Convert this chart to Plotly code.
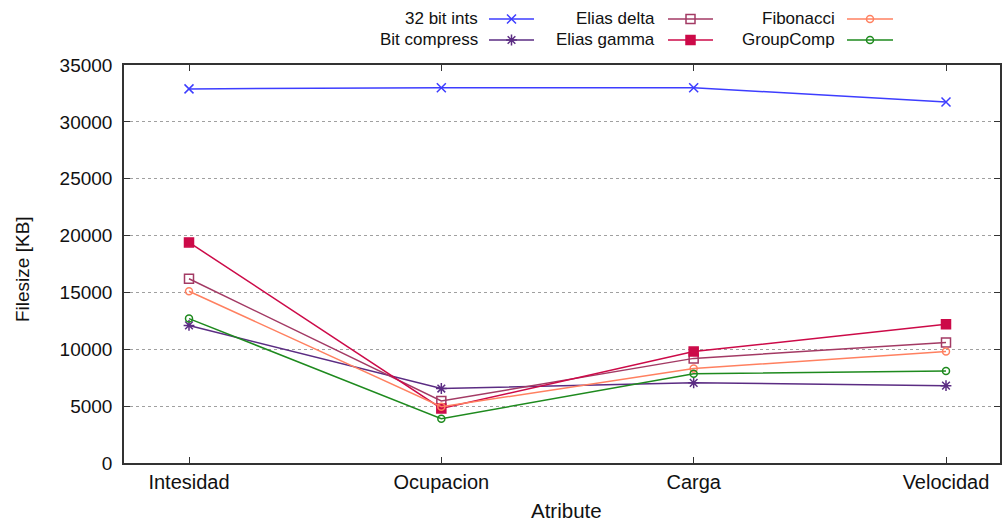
import plotly.graph_objects as go

# Attributes compressed and file sizes (KB) per encoding
attributes = ["Intesidad", "Ocupacion", "Carga", "Velocidad"]
ints32 = [32900, 33000, 33000, 31750]
bit_compress = [12100, 6550, 7050, 6800]
elias_delta = [16200, 5450, 9200, 10600]
elias_gamma = [19400, 4800, 9800, 12200]
fibonacci = [15100, 4950, 8300, 9800]
group_comp = [12700, 3900, 7850, 8100]

y_ticks = [0, 5000, 10000, 15000, 20000, 25000, 30000, 35000]

W, H = 1002, 522
PLOT_L, PLOT_R, PLOT_T, PLOT_B = 124, 1000, 65, 463
FONT = "Liberation Sans, Arial, sans-serif"

series = [
    # name, values, colour, symbol, size, legend column, legend row
    ("32 bit ints", ints32, "#3d3dff", "x-thin-open", 9, 0, 0),
    ("Bit compress", bit_compress, "#5b2c83", "asterisk-open", 9, 0, 1),
    ("Elias delta", elias_delta, "#a33a64", "square-open", 9, 1, 0),
    ("Elias gamma", elias_gamma, "#cc0a48", "square", 9, 1, 1),
    ("Fibonacci", fibonacci, "#ff8060", "circle-open", 7, 2, 0),
    ("GroupComp", group_comp, "#1e8a1e", "circle-open", 7, 2, 1),
]

# key layout (pixels): text right edge, sample line start/end, row centres
key_text_right = [480, 657, 837]
key_line = [(489, 534), (668, 713), (847, 893)]
key_rows = [19, 40]

fig = go.Figure()

for name, vals, color, sym, size, col, row in series:
    fig.add_trace(go.Scatter(
        x=list(range(len(attributes))), y=vals, name=name,
        mode="lines+markers",
        line=dict(color=color, width=1.5),
        marker=dict(symbol=sym, size=size, color=color,
                    line=dict(color=color, width=1.5)),
        showlegend=False, hoverinfo="skip",
    ))

# hand-drawn key: label followed by a line sample with its marker
annotations = []
for name, vals, color, sym, size, col, row in series:
    x0, x1 = key_line[col]
    yk = key_rows[row]
    fig.add_trace(go.Scatter(
        x=[x0, x1], y=[yk, yk], mode="lines",
        line=dict(color=color, width=1.5),
        xaxis="x2", yaxis="y2", showlegend=False, hoverinfo="skip",
    ))
    fig.add_trace(go.Scatter(
        x=[(x0 + x1) / 2], y=[yk], mode="markers",
        marker=dict(symbol=sym, size=size, color=color,
                    line=dict(color=color, width=1.5)),
        xaxis="x2", yaxis="y2", showlegend=False, hoverinfo="skip",
    ))
    annotations.append(dict(
        x=key_text_right[col] / W, y=1 - yk / H, xref="paper", yref="paper",
        text=name, showarrow=False, xanchor="right", yanchor="middle",
        font=dict(family=FONT, size=17, color="#111"),
    ))

annotations.append(dict(
    x=566 / W, y=1 - 510 / H, xref="paper", yref="paper",
    text="Atribute", showarrow=False, xanchor="center", yanchor="middle",
    font=dict(family=FONT, size=20.5, color="#111"),
))
annotations.append(dict(
    x=22 / W, y=1 - 269 / H, xref="paper", yref="paper",
    text="Filesize [KB]", showarrow=False, textangle=-90,
    xanchor="center", yanchor="middle",
    font=dict(family=FONT, size=19, color="#111"),
))

cat_px = [189, 441, 693, 946]
step = (cat_px[-1] - cat_px[0]) / 3
x_lo = -(cat_px[0] - PLOT_L) / step
x_hi = 3 + (PLOT_R - cat_px[-1]) / step

fig.update_layout(
    width=W, height=H,
    margin=dict(l=0, r=0, t=0, b=0),
    paper_bgcolor="white", plot_bgcolor="rgba(0,0,0,0)",
    font=dict(family=FONT, size=19, color="#111"),
    xaxis=dict(
        domain=[PLOT_L / W, PLOT_R / W],
        range=[x_lo, x_hi],
        tickvals=list(range(len(attributes))), ticktext=attributes,
        ticks="inside", ticklen=6, tickcolor="#333", tickwidth=1,
        showline=True, linecolor="#333", linewidth=1.5, mirror="ticks",
        showgrid=False, zeroline=False, automargin=False,
        ticklabelstandoff=0,
        tickfont=dict(family=FONT, size=20, color="#111"),
    ),
    yaxis=dict(
        domain=[1 - PLOT_B / H, 1 - PLOT_T / H],
        range=[0, 35000],
        tickvals=y_ticks, ticktext=[str(v) for v in y_ticks],
        ticks="inside", ticklen=6, tickcolor="#333", tickwidth=1,
        showline=True, linecolor="#333", linewidth=1.5, mirror="ticks",
        showgrid=True, gridcolor="#a0a0a0", gridwidth=1, griddash="dot",
        zeroline=False, automargin=False,
        ticklabelstandoff=6,
        tickfont=dict(family=FONT, size=19, color="#111"),
    ),
    xaxis2=dict(domain=[0, 1], range=[0, W], anchor="y2", visible=False,
                fixedrange=True),
    yaxis2=dict(domain=[0, 1], range=[H, 0], anchor="x2", visible=False,
                fixedrange=True),
    annotations=annotations,
    showlegend=False,
)

fig.write_html("out.html")
